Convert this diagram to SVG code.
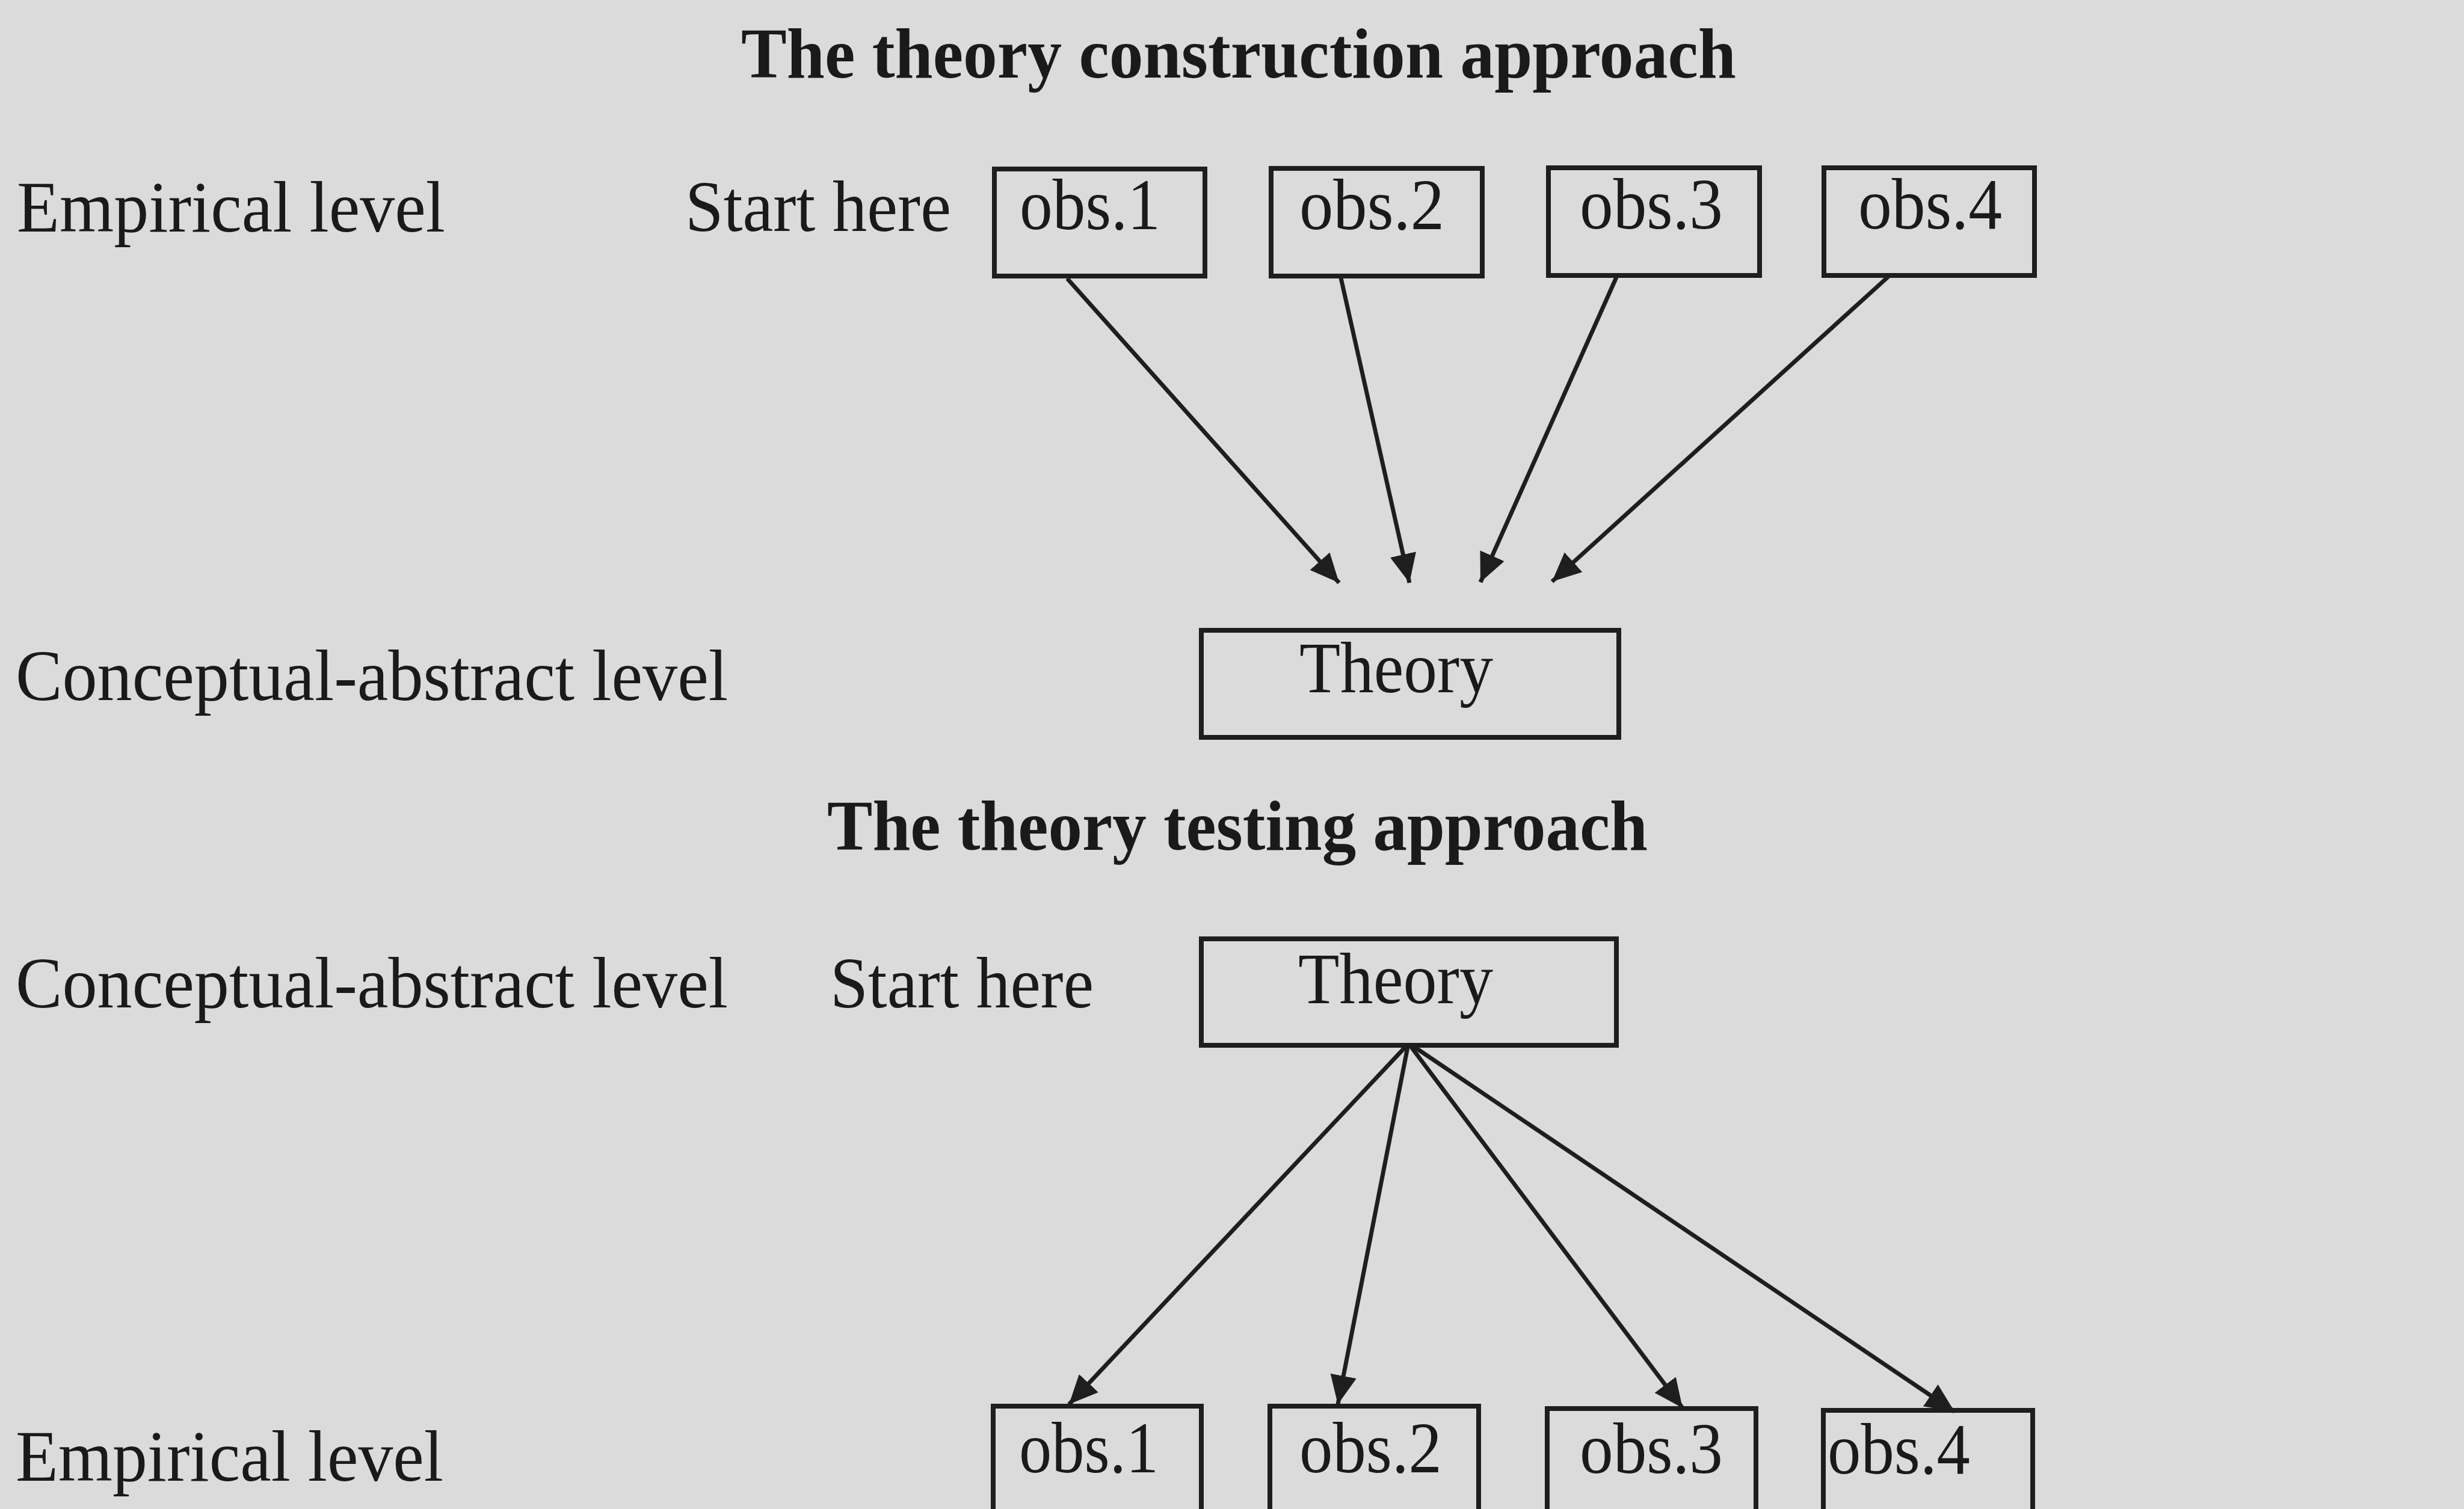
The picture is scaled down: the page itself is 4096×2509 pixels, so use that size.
<svg xmlns="http://www.w3.org/2000/svg" width="4096" height="2509" viewBox="0 0 4096 2509">
<style>
  .bg { fill: #dbdbdb; }
  .box { fill: none; stroke: #1e1e1e; stroke-width: 8; }
  .lbl { font-family: "Liberation Serif", "Times New Roman", serif; font-size: 120px; fill: #1a1a1a; }
  .ttl { font-family: "Liberation Serif", "Times New Roman", serif; font-size: 118px; font-weight: bold; fill: #1a1a1a; }
  .conn { stroke: #1e1e1e; stroke-width: 7; fill: none; marker-end: url(#arrow); }
</style>
<defs>
  <marker id="arrow" markerUnits="userSpaceOnUse" markerWidth="52" markerHeight="46" refX="48" refY="22" orient="auto">
    <path d="M0,0 L48,22 L0,44 Z" fill="#1e1e1e"/>
  </marker>
</defs>
<rect class="bg" x="0" y="0" width="4096" height="2509"/>

<g id="titles">
  <text class="ttl" x="1232" y="129" textLength="1654" lengthAdjust="spacingAndGlyphs">The theory construction approach</text>
  <text class="ttl" x="1375" y="1413" textLength="1364" lengthAdjust="spacingAndGlyphs">The theory testing approach</text>
</g>

<g id="level-labels">
  <text class="lbl" x="28" y="385" textLength="712" lengthAdjust="spacingAndGlyphs">Empirical level</text>
  <text class="lbl" x="1139" y="384" textLength="442" lengthAdjust="spacingAndGlyphs">Start here</text>
  <text class="lbl" x="26" y="1164" textLength="1184" lengthAdjust="spacingAndGlyphs">Conceptual-abstract level</text>
  <text class="lbl" x="26" y="1675" textLength="1184" lengthAdjust="spacingAndGlyphs">Conceptual-abstract level</text>
  <text class="lbl" x="1380" y="1675" textLength="438" lengthAdjust="spacingAndGlyphs">Start here</text>
  <text class="lbl" x="26" y="2462" textLength="711" lengthAdjust="spacingAndGlyphs">Empirical level</text>
</g>

<g id="connectors">
  <line class="conn" x1="1774" y1="463" x2="2226" y2="969"/>
  <line class="conn" x1="2229" y1="462" x2="2343" y2="969"/>
  <line class="conn" x1="2687" y1="461" x2="2461" y2="968"/>
  <line class="conn" x1="3139" y1="460" x2="2580" y2="967"/>
  <line class="conn" x1="2336" y1="1741" x2="1777" y2="2335"/>
  <line class="conn" x1="2340" y1="1741" x2="2224" y2="2335"/>
  <line class="conn" x1="2346" y1="1741" x2="2797" y2="2341"/>
  <line class="conn" x1="2350" y1="1740" x2="3249" y2="2347"/>
</g>

<g id="c-obs1"><rect class="box" x="1653" y="281" width="350" height="178"/><text class="lbl" x="1695" y="381" textLength="234" lengthAdjust="spacingAndGlyphs">obs.1</text></g>
<g id="c-obs2"><rect class="box" x="2113" y="280" width="351" height="179"/><text class="lbl" x="2160" y="381" textLength="241" lengthAdjust="spacingAndGlyphs">obs.2</text></g>
<g id="c-obs3"><rect class="box" x="2574" y="279" width="351" height="179"/><text class="lbl" x="2626" y="380" textLength="238" lengthAdjust="spacingAndGlyphs">obs.3</text></g>
<g id="c-obs4"><rect class="box" x="3032" y="279" width="350" height="179"/><text class="lbl" x="3089" y="380" textLength="239" lengthAdjust="spacingAndGlyphs">obs.4</text></g>
<g id="c-theory"><rect class="box" x="1997" y="1048" width="694" height="178"/><text class="lbl" x="2160" y="1151" textLength="322" lengthAdjust="spacingAndGlyphs">Theory</text></g>

<g id="t-theory"><rect class="box" x="1997" y="1561" width="690" height="177"/><text class="lbl" x="2158" y="1668" textLength="324" lengthAdjust="spacingAndGlyphs">Theory</text></g>
<g id="t-obs1"><rect class="box" x="1651" y="2338" width="346" height="260"/><text class="lbl" x="1694" y="2448" textLength="232" lengthAdjust="spacingAndGlyphs">obs.1</text></g>
<g id="t-obs2"><rect class="box" x="2111" y="2338" width="347" height="260"/><text class="lbl" x="2160" y="2448" textLength="237" lengthAdjust="spacingAndGlyphs">obs.2</text></g>
<g id="t-obs3"><rect class="box" x="2572" y="2342" width="347" height="260"/><text class="lbl" x="2626" y="2449" textLength="238" lengthAdjust="spacingAndGlyphs">obs.3</text></g>
<g id="t-obs4"><rect class="box" x="3031" y="2345" width="348" height="260"/><text class="lbl" x="3038" y="2450" textLength="237" lengthAdjust="spacingAndGlyphs">obs.4</text></g>
</svg>
